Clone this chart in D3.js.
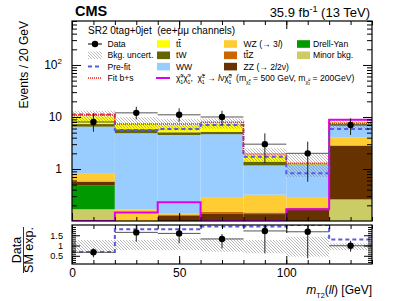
<!DOCTYPE html>
<html>
<head>
<meta charset="utf-8">
<script src="https://cdn.jsdelivr.net/npm/d3@7"></script>
<style>
body { margin: 0; background: #fff; }
svg { font-family: "Liberation Sans", Arial, sans-serif; }
text { white-space: pre; }
</style>
</head>
<body>
<svg id="chart" width="399" height="301"></svg>
<script>
// bins of mT2(ll)
var binEdges = [0, 20, 40, 60, 80, 100, 120, 140];

// stacked backgrounds (post-fit), bottom to top
var minorBkg = [0.168, 0.02, 0.0, 0.0, 0.0, 0.0, 0.26];
var dyVals   = [0.32, 0, 0, 0, 0, 0, 0];
var zzVals   = [0.08, 0, 0.128, 0.14, 0.136, 0.168, 2.54];
var ttzVals  = [0.01, 0.005, 0.005, 0.01, 0.01, 0.01, 0.05];
var wzVals   = [0.23, 0.143, 0.005, 0.14, 0.174, 0.112, 1.15];
var wwVals   = [5.7, 4.7, 4.37, 4.37, 0.85, 0.91, 2.9];
var twVals   = [0.8, 0.94, 0.57, 0.55, 0.22, 0.03, 0.4];
var ttVals   = [2.9, 1.5, 1.93, 2.4, 0.48, 0.07, 0.6];

// overlays
var dataVals = [8, 12, 11, 10, 3, 2, 7];
var dataLo   = [5.2, 9.0, 8.1, 7.0, 1.29, 0.57, 4.5];
var dataHi   = [11.8, 15.7, 14.7, 13.2, 4.85, 3.35, 9.4];
var preFit   = [11.1, 5.6, 5.9, 7.0, 1.72, 0.83, 5.9];
var fitBS    = [10.9, 7.3, 7.3, 7.9, 1.94, 1.29, 7.6];
var signal   = [0.05, 0.145, 0.23, 0.05, 0.05, 0.168, 8.8];
var uncHi    = [13.2, 9.9, 9.1, 9.4, 2.5, 2.0, 8.8];
var uncLo    = [8.0, 6.0, 5.5, 6.0, 1.4, 0.7, 6.0];

// ratio panel
var ratioData  = [0.67, 1.64, 1.59, 1.32, 1.71, 1.67, 0.99];
var ratioLo    = [0.43, 1.19, 1.11, 0.86, 0.62, 0.38, 0.7];
var ratioHi    = [0.86, 2.1, 1.84, 1.56, 2.1, 2.1, 1.23];
var ratioPre   = [0.68, 1.79, 1.79, 1.93, 1.93, 2.3, 1.29];
var ratioUncHi = [1.27, 1.27, 1.35, 1.35, 1.27, 1.43, 1.11];
var ratioUncLo = [0.7, 0.78, 0.78, 0.7, 0.62, 0.46, 0.78];

var xTicks = [0, 50, 100];
var yTicks = [1, 10, 100];
var rTicks = [0.5, 1, 1.5];

var layerKeys = ["minor", "dy", "zz", "ttz", "wz", "ww", "tw", "tt"];
var layerColors = {
  minor: "#cccc66", dy: "#009900", zz: "#663300", ttz: "#cc6600",
  wz: "#ffcc33", ww: "#99ccff", tw: "#666600", tt: "#ffff00"
};

var L = 72, R = 372, T = 21, B = 221, RT = 225, RB = 264;

var svg = d3.select("#chart");
var x = d3.scaleLinear().domain([0, 140]).range([L, R]);
var y = d3.scaleLog().domain([0.1, 700]).range([B, T]).clamp(true);
var yr = d3.scaleLinear().domain([0.1, 2.0]).range([RB, RT]).clamp(true);

var defs = svg.append("defs");
var pat = defs.append("pattern").attr("id", "hatch")
  .attr("patternUnits", "userSpaceOnUse").attr("width", 3).attr("height", 3);
pat.append("path").attr("d", "M-1,-1 L4,4 M-1,2 L1,4 M2,-1 L4,1")
  .attr("stroke", "#8a8a8a").attr("stroke-width", 0.6);
defs.append("clipPath").attr("id", "clipMain").append("rect")
  .attr("x", L).attr("y", T).attr("width", R - L).attr("height", B - T);
defs.append("clipPath").attr("id", "clipRatio").append("rect")
  .attr("x", L).attr("y", RT).attr("width", R - L).attr("height", RB - RT);

// build stack table
var table = binEdges.slice(0, -1).map(function(e, i) {
  return { minor: minorBkg[i], dy: dyVals[i], zz: zzVals[i], ttz: ttzVals[i],
           wz: wzVals[i], ww: wwVals[i], tw: twVals[i], tt: ttVals[i] };
});
var stacked = d3.stack().keys(layerKeys)(table);

var main = svg.append("g").attr("clip-path", "url(#clipMain)");
stacked.forEach(function(layer) {
  main.append("g").selectAll("rect").data(layer).enter().append("rect")
    .attr("x", function(d, i) { return x(binEdges[i]); })
    .attr("width", function(d, i) { return x(binEdges[i + 1]) - x(binEdges[i]); })
    .attr("y", function(d) { return y(d[1]); })
    .attr("height", function(d) { return Math.max(0, y(d[0]) - y(d[1])); })
    .attr("fill", layerColors[layer.key]);
});

// uncertainty band
main.append("g").selectAll("rect").data(uncHi).enter().append("rect")
  .attr("x", function(d, i) { return x(binEdges[i]); })
  .attr("width", function(d, i) { return x(binEdges[i + 1]) - x(binEdges[i]); })
  .attr("y", function(d) { return y(d); })
  .attr("height", function(d, i) { return y(uncLo[i]) - y(d); })
  .attr("fill", "url(#hatch)");

function stepPts(vals) {
  var p = vals.map(function(v, i) { return [binEdges[i], v]; });
  p.push([binEdges[binEdges.length - 1], vals[vals.length - 1]]);
  return p;
}
var lineMain = d3.line().x(function(d) { return x(d[0]); })
  .y(function(d) { return y(d[1]); }).curve(d3.curveStepAfter);
var lineRatio = d3.line().x(function(d) { return x(d[0]); })
  .y(function(d) { return yr(d[1]); }).curve(d3.curveStepAfter);

main.append("path").attr("d", lineMain(stepPts(signal)))
  .attr("fill", "none").attr("stroke", "#dd00ee").attr("stroke-width", 2);
main.append("path").attr("d", lineMain(stepPts(preFit)))
  .attr("fill", "none").attr("stroke", "#5a5ae6").attr("stroke-width", 2)
  .attr("stroke-dasharray", "4,3");
main.append("path").attr("d", lineMain(stepPts(fitBS)))
  .attr("fill", "none").attr("stroke", "#ff1010").attr("stroke-width", 1.5)
  .attr("stroke-dasharray", "1,1");

function drawPoints(g, ys, vals, lo, hi) {
  var gp = g.append("g");
  vals.forEach(function(v, i) {
    var cx = x((binEdges[i] + binEdges[i + 1]) / 2);
    gp.append("line").attr("x1", x(binEdges[i])).attr("x2", x(binEdges[i + 1]))
      .attr("y1", ys(v)).attr("y2", ys(v)).attr("stroke", "#555").attr("stroke-width", 1);
    gp.append("line").attr("x1", cx).attr("x2", cx)
      .attr("y1", ys(lo[i])).attr("y2", ys(hi[i])).attr("stroke", "#222").attr("stroke-width", 1);
    gp.append("circle").attr("cx", cx).attr("cy", ys(v)).attr("r", 3.2).attr("fill", "#000");
  });
}
drawPoints(main, y, dataVals, dataLo, dataHi);

// ratio panel
var rat = svg.append("g").attr("clip-path", "url(#clipRatio)");
rat.append("g").selectAll("rect").data(ratioUncHi).enter().append("rect")
  .attr("x", function(d, i) { return x(binEdges[i]); })
  .attr("width", function(d, i) { return x(binEdges[i + 1]) - x(binEdges[i]); })
  .attr("y", function(d) { return yr(d); })
  .attr("height", function(d, i) { return yr(ratioUncLo[i]) - yr(d); })
  .attr("fill", "url(#hatch)");
rat.append("path").attr("d", lineRatio(stepPts(ratioPre)))
  .attr("fill", "none").attr("stroke", "#5a5ae6").attr("stroke-width", 2)
  .attr("stroke-dasharray", "4,3");
drawPoints(rat, yr, ratioData, ratioLo, ratioHi);

// axes (ROOT style ticks inside the frame)
function minorLog() {
  var v = [];
  [0.1, 1, 10, 100].forEach(function(d) {
    for (var k = 2; k <= 9; k++) if (d * k <= 700) v.push(d * k);
  });
  return v;
}
function addAxis(axis, tx, ty, size) {
  var g = svg.append("g").attr("transform", "translate(" + tx + "," + ty + ")").call(axis);
  g.select(".domain").remove();
  g.selectAll("line").attr("stroke", "#000");
  g.selectAll("text").attr("font-family", null).style("font-size", (size || 12) + "px").attr("fill", "#000");
  return g;
}
var minorX = d3.range(0, 141, 10);
// main panel
var gy = addAxis(d3.axisLeft(y).tickValues(yTicks).tickSize(-9).tickPadding(10)
  .tickFormat(function(d) { return d === 100 ? "10" : d3.format("d")(d); }), L, 0);
gy.selectAll(".tick text").filter(function(d) { return d === 100; })
  .append("tspan").attr("dy", -5).style("font-size", "8px").text("2");
addAxis(d3.axisLeft(y).tickValues(minorLog()).tickSize(-5).tickFormat(""), L, 0);
addAxis(d3.axisRight(y).tickValues(yTicks).tickSize(-9).tickFormat(""), R, 0);
addAxis(d3.axisRight(y).tickValues(minorLog()).tickSize(-5).tickFormat(""), R, 0);
addAxis(d3.axisBottom(x).tickValues(xTicks).tickSize(-8).tickFormat(""), 0, B);
addAxis(d3.axisBottom(x).tickValues(minorX).tickSize(-4).tickFormat(""), 0, B);
addAxis(d3.axisTop(x).tickValues(xTicks).tickSize(-8).tickFormat(""), 0, T);
addAxis(d3.axisTop(x).tickValues(minorX).tickSize(-4).tickFormat(""), 0, T);
// ratio panel
addAxis(d3.axisLeft(yr).tickValues(rTicks).tickSize(-8).tickPadding(9)
  .tickFormat(function(d) { return String(d); }), L, 0, 9.2);
addAxis(d3.axisLeft(yr).tickValues(d3.range(0.2, 2.0, 0.1)).tickSize(-4).tickFormat(""), L, 0);
addAxis(d3.axisRight(yr).tickValues(rTicks).tickSize(-8).tickFormat(""), R, 0);
addAxis(d3.axisRight(yr).tickValues(d3.range(0.2, 2.0, 0.1)).tickSize(-4).tickFormat(""), R, 0);
addAxis(d3.axisBottom(x).tickValues(xTicks).tickSize(-8).tickPadding(4)
  .tickFormat(d3.format("d")), 0, RB);
addAxis(d3.axisBottom(x).tickValues(minorX).tickSize(-4).tickFormat(""), 0, RB);
addAxis(d3.axisTop(x).tickValues(xTicks).tickSize(-8).tickFormat(""), 0, RT);
addAxis(d3.axisTop(x).tickValues(minorX).tickSize(-4).tickFormat(""), 0, RT);

// frames
[[T, B], [RT, RB]].forEach(function(f) {
  svg.append("rect").attr("x", L).attr("y", f[0]).attr("width", R - L)
    .attr("height", f[1] - f[0]).attr("fill", "none").attr("stroke", "#000").attr("stroke-width", 1.2);
});

// rich text helper: parts = [text, shift(em), scale, italic, dx]
function rich(g, px, py, size, parts, anchor) {
  var t = g.append("text").attr("x", px).attr("y", py).style("font-size", size + "px")
    .attr("text-anchor", anchor || "start");
  var cur = 0;
  parts.forEach(function(p) {
    var sh = (p[1] || 0) * size;
    var ts = t.append("tspan").attr("dy", sh - cur).text(p[0]);
    cur = sh;
    if (p[2]) ts.style("font-size", (size * p[2]) + "px");
    if (p[3]) ts.style("font-style", "italic");
    if (p[4]) ts.attr("dx", p[4]);
  });
  return t;
}

// header
svg.append("text").attr("x", 75).attr("y", 16).style("font-size", "14.5px")
  .style("font-weight", "bold").text("CMS");
rich(svg, 370, 17, 13, [["35.9 fb"], ["-1", -0.4, 0.7], [" (13 TeV)", 0]], "end");

// axis titles
svg.append("text").attr("transform", "translate(28," + T + ") rotate(-90)")
  .attr("text-anchor", "end").style("font-size", "12px").text("Events / 20 GeV");
rich(svg, R, 294, 12, [["m", 0, 1, true], ["T2", 0.3, 0.6], ["(", 0], ["ll", 0, 1, true], [") [GeV]", 0]], "end");
var rc = 250;
svg.append("text").attr("transform", "translate(21," + rc + ") rotate(-90)")
  .attr("text-anchor", "middle").style("font-size", "12.5px").text("Data");
svg.append("line").attr("x1", 23.5).attr("x2", 23.5).attr("y1", rc - 23).attr("y2", rc + 23)
  .attr("stroke", "#000").attr("stroke-width", 0.8);
svg.append("text").attr("transform", "translate(33," + rc + ") rotate(-90)")
  .attr("text-anchor", "middle").style("font-size", "12.5px").text("SM exp.");

// legend
var leg = svg.append("g");
leg.append("text").attr("x", 88).attr("y", 34).style("font-size", "10px")
  .text("SR2 0tag+0jet  (ee+\u03bc\u03bc channels)");
var rowY = [44, 55.3, 66.6, 78];
var fs = 8.6;
function swatch(cx, row, color) {
  leg.append("rect").attr("x", cx).attr("y", rowY[row] - 3.8).attr("width", 13).attr("height", 7.6)
    .attr("fill", color);
}
function label(tx, row, parts) { return rich(leg, tx, rowY[row] + 3, fs, parts); }
// column 1
leg.append("line").attr("x1", 88).attr("x2", 102).attr("y1", rowY[0]).attr("y2", rowY[0])
  .attr("stroke", "#000");
leg.append("circle").attr("cx", 95).attr("cy", rowY[0]).attr("r", 3.2);
label(107.5, 0, [["Data"]]);
leg.append("rect").attr("x", 88).attr("y", rowY[1] - 3.8).attr("width", 14).attr("height", 7.6)
  .attr("fill", "url(#hatch)");
label(107.5, 1, [["Bkg. uncert."]]);
leg.append("line").attr("x1", 88).attr("x2", 102).attr("y1", rowY[2]).attr("y2", rowY[2])
  .attr("stroke", "#5a5ae6").attr("stroke-width", 2).attr("stroke-dasharray", "4,3");
label(107.5, 2, [["Pre-fit"]]);
leg.append("line").attr("x1", 88).attr("x2", 102).attr("y1", rowY[3]).attr("y2", rowY[3])
  .attr("stroke", "#ff1010").attr("stroke-width", 1.5).attr("stroke-dasharray", "1,1");
label(107.5, 3, [["Fit b+s"]]);
// column 2
swatch(157, 0, layerColors.tt);
label(176, 0, [["t"], ["t", 0]]).select("tspan:nth-child(2)").style("text-decoration", "overline");
swatch(157, 1, layerColors.tw);
label(176, 1, [["tW"]]);
swatch(157, 2, layerColors.ww);
label(176, 2, [["WW"]]);
leg.append("line").attr("x1", 156).attr("x2", 170).attr("y1", rowY[3]).attr("y2", rowY[3])
  .attr("stroke", "#dd00ee").attr("stroke-width", 2);
var chi = "\u03c7\u0303";
label(176, 3, [
  [chi, 0], ["+", -0.4, 0.6], ["1", 0.3, 0.6, false, -3.2], [chi, 0], ["\u2212", -0.4, 0.6],
  ["1", 0.3, 0.6, false, -3.2], [",  ", 0], [chi, 0], ["\u00b1", -0.4, 0.6], ["1", 0.3, 0.6, false, -3.2],
  [" \u2192 ", 0], ["l", 0, 1, true], ["\u03bd", 0], [chi, 0], ["0", -0.4, 0.6], ["1", 0.3, 0.6, false, -3.2],
  ["  (m", 0], [chi, 0.3, 0.6], ["\u00b1", 0.05, 0.45], ["1", 0.5, 0.45, false, -2.4],
  [" = 500 GeV, m", 0], [chi, 0.3, 0.6], ["0", 0.05, 0.45], ["1", 0.5, 0.45, false, -2.4],
  [" = 200GeV)", 0]
]);
// column 3
swatch(224, 0, layerColors.wz);
label(243.5, 0, [["WZ (\u2192 3"], ["l", 0, 1, true], [")"]]);
swatch(224, 1, layerColors.ttz);
label(243.5, 1, [["t"], ["t", 0], ["Z"]]).select("tspan:nth-child(2)").style("text-decoration", "overline");
swatch(224, 2, layerColors.zz);
label(243.5, 2, [["ZZ (\u2192 2"], ["l", 0, 1, true], ["2\u03bd)"]]);
// column 4
swatch(297, 0, layerColors.dy);
label(313, 0, [["Drell-Yan"]]);
swatch(297, 1, layerColors.minor);
label(313, 1, [["Minor bkg."]]);
</script>
</body>
</html>
